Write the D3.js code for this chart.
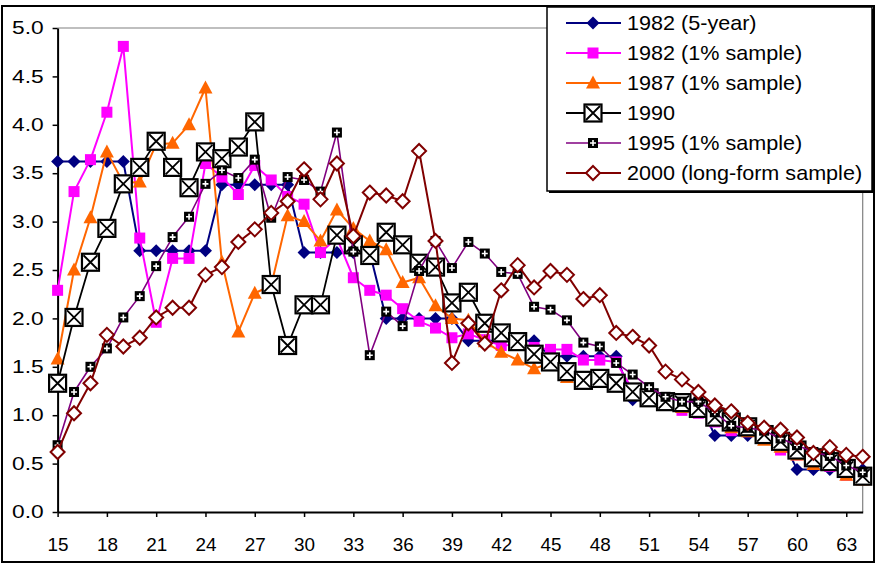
<!DOCTYPE html>
<html>
<head>
<meta charset="utf-8">
<script src="https://cdn.jsdelivr.net/npm/d3@7"></script>
<style>
  html, body { margin: 0; padding: 0; background: #fff; }
  svg { display: block; font-family: "Liberation Sans", Arial, sans-serif; }
</style>
</head>
<body>
<svg id="chart" width="877" height="565"></svg>
<script>
// Age categories along the x axis
const ages = [15,16,17,18,19,20,21,22,23,24,25,26,27,28,29,30,31,32,33,34,
              35,36,37,38,39,40,41,42,43,44,45,46,47,48,49,50,51,52,53,54,
              55,56,57,58,59,60,61,62,63,64];
const xTickLabels = [15,18,21,24,27,30,33,36,39,42,45,48,51,54,57,60,63];
const yTickValues = [0,0.5,1,1.5,2,2.5,3,3.5,4,4.5,5];

const seriesNames = ["1982 (5-year)", "1982 (1% sample)", "1987 (1% sample)",
                     "1990", "1995 (1% sample)", "2000 (long-form sample)"];

const v1982five = [3.62,3.62,3.62,3.62,3.62, 2.70,2.70,2.70,2.70,2.70,
                   3.38,3.38,3.38,3.38,3.38, 2.68,2.68,2.68,2.68,2.68,
                   2.00,2.00,2.00,2.00,2.00, 1.77,1.77,1.77,1.77,1.77,
                   1.61,1.61,1.61,1.61,1.61, 1.16,1.16,1.16,1.16,1.16,
                   0.79,0.79,0.79,0.79,0.79, 0.44,0.44,0.44,0.44,0.44];
const v1982one  = [2.29,3.31,3.64,4.13,4.81,2.83,1.96,2.62,2.62,3.60,
                   3.46,3.28,3.58,3.43,3.26,3.18,2.68,2.83,2.42,2.29,
                   2.24,2.10,1.97,1.90,1.80,1.84,1.78,1.72,1.73,1.70,
                   1.68,1.68,1.57,1.57,1.55,1.26,1.19,1.16,1.05,1.02,
                   0.93,0.84,0.83,0.76,0.64,0.59,0.52,0.47,0.38,0.35];
const v1987     = [1.58,2.50,3.04,3.72,3.40,3.41,3.80,3.81,4.00,4.38,
                   2.58,1.86,2.26,2.34,3.06,3.00,2.80,3.12,2.93,2.80,
                   2.71,2.37,2.42,2.13,2.00,1.98,1.76,1.65,1.57,1.48,
                   1.54,1.39,1.33,1.35,1.33,1.24,1.16,1.12,1.08,1.03,
                   0.95,0.87,0.83,0.74,0.67,0.59,0.49,0.49,0.38,0.33];
const v1990     = [1.33,2.01,2.58,2.93,3.39,3.56,3.83,3.56,3.35,3.72,
                   3.65,3.77,4.03,2.35,1.72,2.14,2.14,2.86,2.76,2.65,
                   2.89,2.76,2.57,2.53,2.16,2.27,1.95,1.85,1.76,1.63,
                   1.55,1.45,1.36,1.38,1.33,1.24,1.18,1.14,1.13,1.07,
                   0.98,0.93,0.88,0.80,0.73,0.64,0.56,0.52,0.45,0.37];
const v1995     = [0.69,1.24,1.50,1.69,2.01,2.23,2.54,2.84,3.05,3.39,
                   3.53,3.45,3.64,3.04,3.46,3.43,3.31,3.92,2.69,1.62,
                   2.07,1.92,2.49,2.80,2.52,2.79,2.67,2.48,2.46,2.12,
                   2.09,1.98,1.75,1.71,1.54,1.42,1.29,1.19,1.14,1.14,
                   1.03,0.89,0.87,0.84,0.76,0.69,0.62,0.58,0.48,0.41];
const v2000     = [0.62,1.02,1.33,1.83,1.71,1.80,2.01,2.11,2.11,2.45,
                   2.53,2.79,2.92,3.09,3.21,3.54,3.23,3.60,2.85,3.30,
                   3.27,3.21,3.73,2.80,1.54,1.95,1.74,2.29,2.55,2.32,
                   2.49,2.45,2.20,2.24,1.85,1.81,1.72,1.45,1.37,1.24,
                   1.10,1.04,0.92,0.87,0.85,0.77,0.61,0.67,0.59,0.57];

const seriesValues = [v1982five, v1982one, v1987, v1990, v1995, v2000];

// Visual style per series: line colour, line width and marker kind
const styles = [
  { color: "#000080", width: 2,   marker: "diamond"  },
  { color: "#FF00FF", width: 2,   marker: "square"   },
  { color: "#FF6600", width: 2,   marker: "triangle" },
  { color: "#000000", width: 1.8, marker: "xbox"     },
  { color: "#800080", width: 1.6, marker: "plusbox"  },
  { color: "#800000", width: 2,   marker: "hdiamond" }
];

const svg = d3.select("#chart");

// Plot area
const plot = { left: 57.6, right: 862.7, top: 28, bottom: 512 };
const x = d3.scalePoint().domain(ages).range([plot.left, plot.right]);
const y = d3.scaleLinear().domain([0, 5]).range([plot.bottom, plot.top]);

// Outer frame of the chart
svg.append("rect")
  .attr("x", 2).attr("y", 6).attr("width", 872).attr("height", 556)
  .attr("fill", "#fff").attr("stroke", "#000").attr("stroke-width", 2);

// Grey plot-area border on the top and right sides
svg.append("path")
  .attr("d", `M${plot.left},${plot.top}H${plot.right}V${plot.bottom}`)
  .attr("fill", "none").attr("stroke", "#808080").attr("stroke-width", 1.2);

// Axes
const xAxis = d3.axisBottom(x)
  .tickValues(xTickLabels)
  .tickSize(5).tickSizeOuter(0).tickPadding(22);
const gx = svg.append("g")
  .attr("transform", `translate(0,${plot.bottom})`)
  .call(xAxis);

const yAxis = d3.axisLeft(y)
  .tickValues(yTickValues)
  .tickFormat(d3.format(".1f"))
  .tickSize(5).tickSizeOuter(0).tickPadding(9);
const gy = svg.append("g")
  .attr("transform", `translate(${plot.left},0)`)
  .call(yAxis);

[gx, gy].forEach(g => {
  g.select(".domain").attr("stroke", "#000").attr("stroke-width", 2);
  g.selectAll(".tick line").attr("stroke", "#000").attr("stroke-width", 1.5);
  g.selectAll(".tick text")
    .attr("fill", "#000")
    .style("font-family", "'Liberation Sans', Arial, sans-serif")
    .style("font-size", "17.5px");
});
// Tick labels are set slightly wide: stretch them about their anchor points
gx.selectAll(".tick text").each(function () {
  const t = d3.select(this);
  const ty = +t.attr("y");
  t.attr("y", 0).attr("transform", `translate(0,${ty}) scale(1.08,1)`);
});
gy.selectAll(".tick text").each(function () {
  const t = d3.select(this);
  const tx = +t.attr("x");
  t.attr("x", 0).attr("transform", `translate(${tx},0) scale(1.3,1)`);
});

// Marker shapes drawn around the origin of the given group
function drawMarker(g, kind, color) {
  switch (kind) {
    case "diamond":
      g.append("path").attr("d", "M0,-6.5L6.5,0L0,6.5L-6.5,0Z").attr("fill", color);
      break;
    case "square":
      g.append("rect").attr("x", -5.5).attr("y", -5.5).attr("width", 11).attr("height", 11)
        .attr("fill", color);
      break;
    case "triangle":
      g.append("path").attr("d", "M0,-7.5L7,5.5L-7,5.5Z").attr("fill", color);
      break;
    case "xbox":
      g.append("rect").attr("x", -8.5).attr("y", -8.5).attr("width", 17).attr("height", 17)
        .attr("fill", "#fff").attr("stroke", "#000").attr("stroke-width", 2.2);
      g.append("path").attr("d", "M-7,-7L7,7M7,-7L-7,7")
        .attr("stroke", "#000").attr("stroke-width", 1.8);
      break;
    case "plusbox":
      g.append("rect").attr("x", -5).attr("y", -5).attr("width", 10).attr("height", 10)
        .attr("fill", "#000");
      g.append("path").attr("d", "M0,-3V3M-3,0H3")
        .attr("stroke", "#fff").attr("stroke-width", 1.6);
      break;
    case "hdiamond":
      g.append("path").attr("d", "M0,-7L7,0L0,7L-7,0Z")
        .attr("fill", "#fff").attr("stroke", color).attr("stroke-width", 2);
      break;
  }
}

const line = d3.line()
  .x((d, i) => x(ages[i]))
  .y(d => y(d));

// Series: line first, then its markers
seriesValues.forEach((vals, si) => {
  const st = styles[si];
  const g = svg.append("g").attr("class", "series");
  g.append("path")
    .attr("d", line(vals))
    .attr("fill", "none")
    .attr("stroke", st.color)
    .attr("stroke-width", st.width)
    .attr("stroke-linejoin", "round");
  g.selectAll("g.pt")
    .data(vals)
    .join("g")
    .attr("class", "pt")
    .attr("transform", (d, i) => `translate(${x(ages[i])},${y(d)})`)
    .each(function () { drawMarker(d3.select(this), st.marker, st.color); });
});

// Legend box with a small drop shadow
const lg = svg.append("g").attr("class", "legend");
lg.append("rect")
  .attr("x", 549).attr("y", 9).attr("width", 325).attr("height", 184)
  .attr("fill", "#000");
lg.append("rect")
  .attr("x", 547).attr("y", 7).attr("width", 325).attr("height", 184)
  .attr("fill", "#fff").attr("stroke", "#000").attr("stroke-width", 1.5);

seriesNames.forEach((name, i) => {
  const st = styles[i];
  const cy = 23 + i * 30;
  const row = lg.append("g").attr("transform", `translate(0,${cy})`);
  row.append("line")
    .attr("x1", 566).attr("x2", 621).attr("y1", 0).attr("y2", 0)
    .attr("stroke", st.color).attr("stroke-width", st.width);
  drawMarker(row.append("g").attr("transform", "translate(593,0)"), st.marker, st.color);
  row.append("text")
    .attr("x", 0).attr("y", 0).attr("dy", "0.36em")
    .attr("transform", "translate(627,0) scale(1.08,1)")
    .attr("fill", "#000")
    .style("font-size", "20px")
    .text(name);
});
</script>
</body>
</html>
